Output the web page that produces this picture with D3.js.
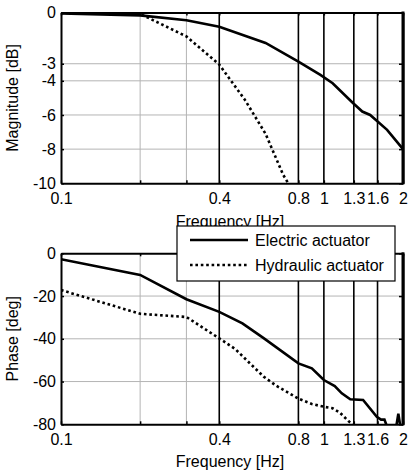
<!DOCTYPE html>
<html lang="en">
<head>
    <meta charset="UTF-8">
    <script src="https://cdn.jsdelivr.net/npm/d3@7"></script>
    <title>Bode comparison</title>
    <style>
        body { margin: 0; background: white; }
        svg text { font-family: "Liberation Sans", Arial, sans-serif; font-size: 16px; fill: black; }
    </style>
</head>
<body>
    <div id="chart"></div>

    <script>
        // Frequency axis
        const xTicks = [0.1, 0.4, 0.8, 1, 1.3, 1.6, 2];
        const xMinorGrid = [0.2, 0.3];
        const markerFreqs = [0.4, 0.8, 1, 1.3, 1.6];

        // Magnitude plot
        const magTicks = [0, -3, -4, -6, -8, -10];
        const magGrid = [-3, -4, -6, -8];
        const magFreqElectric = [0.1, 0.2, 0.3, 0.4, 0.6, 0.8, 0.97, 1.08, 1.29, 1.4, 1.5, 1.74, 2.0];
        const magElectric = [-0.05, -0.17, -0.45, -0.83, -1.78, -2.87, -3.65, -4.14, -5.3, -5.8, -6.0, -6.87, -8.0];
        const magFreqHydraulic = [0.1, 0.15, 0.2, 0.3, 0.4, 0.5, 0.6, 0.7, 0.8];
        const magHydraulic = [-0.02, -0.03, -0.08, -1.4, -3.05, -5.1, -7.1, -9.5, -11];

        // Phase plot
        const phaseTicks = [0, -20, -40, -60, -80];
        const phaseGrid = [-20, -40, -60];
        const phaseFreqElectric = [0.1, 0.2, 0.3, 0.4, 0.49, 0.59, 0.8, 0.9, 1.0, 1.1, 1.17, 1.26, 1.41, 1.59, 1.65, 1.7, 1.75, 1.88, 1.92, 1.96, 2.0];
        const phaseElectric = [-2.8, -10.1, -21.5, -27.4, -32.8, -39.7, -51.5, -53.8, -59.3, -62.1, -65.5, -68.3, -68.6, -76.5, -77.8, -77.8, -82, -82, -75, -82, -80];
        const phaseFreqHydraulic = [0.1, 0.2, 0.3, 0.4, 0.46, 0.59, 0.66, 0.8, 0.9, 1.0, 1.08, 1.15, 1.24, 1.32];
        const phaseHydraulic = [-17.2, -28.3, -29.8, -39.8, -44.8, -57.7, -62, -68, -70.5, -71.8, -72.5, -74.5, -78.5, -81];

        const seriesNames = ["Electric actuator", "Hydraulic actuator"];

        const width = 409, height = 473;
        const svg = d3.select("#chart").append("svg")
            .attr("width", width)
            .attr("height", height);

        const x = d3.scaleLog().domain([0.1, 2]).range([61, 403]);
        const fmt = d => String(d);

        const drawPanel = (id, yDomain, yRange, yTicks, yGrid, series, yLabel, xLabelOffset) => {
            const y = d3.scaleLinear().domain(yDomain).range(yRange);
            const g = svg.append("g");
            const [top, bottom] = [y(yDomain[1]), y(yDomain[0])];

            svg.append("clipPath").attr("id", id)
                .append("rect")
                .attr("x", x(0.1)).attr("y", top)
                .attr("width", x(2) - x(0.1)).attr("height", bottom - top);

            // grey grid
            g.selectAll(".hgrid").data(yGrid).enter().append("line")
                .attr("x1", x(0.1)).attr("x2", x(2))
                .attr("y1", d => y(d)).attr("y2", d => y(d))
                .attr("stroke", "#b4b4b4").attr("stroke-width", 1);
            g.selectAll(".vgrid").data(xMinorGrid).enter().append("line")
                .attr("x1", d => x(d)).attr("x2", d => x(d))
                .attr("y1", top).attr("y2", bottom)
                .attr("stroke", "#b4b4b4").attr("stroke-width", 1);

            // black frequency markers
            g.selectAll(".marker").data(markerFreqs).enter().append("line")
                .attr("x1", d => x(d)).attr("x2", d => x(d))
                .attr("y1", top).attr("y2", bottom)
                .attr("stroke", "black").attr("stroke-width", 1.6);

            // curves
            const line = d3.line().x(d => x(d[0])).y(d => y(d[1]));
            series.forEach(s => {
                g.append("path")
                    .datum(d3.zip(s.freq, s.values))
                    .attr("clip-path", `url(#${id})`)
                    .attr("d", line)
                    .attr("fill", "none")
                    .attr("stroke", "black")
                    .attr("stroke-width", 2.6)
                    .attr("stroke-dasharray", s.dash);
            });

            // axes (ticks pointing inward)
            const allX = xTicks.concat(xMinorGrid);
            g.append("g").attr("transform", `translate(0,${bottom})`)
                .call(d3.axisBottom(x).tickValues(allX)
                    .tickFormat(d => xTicks.includes(d) ? fmt(d) : "")
                    .tickSizeInner(-3).tickSizeOuter(0).tickPadding(9));
            g.append("g").attr("transform", `translate(0,${top})`)
                .call(d3.axisTop(x).tickValues(allX).tickFormat("")
                    .tickSizeInner(-3).tickSizeOuter(0));
            g.append("g").attr("transform", `translate(${x(0.1)},0)`)
                .call(d3.axisLeft(y).tickValues(yTicks).tickFormat(fmt)
                    .tickSizeInner(-3).tickSizeOuter(0).tickPadding(5));
            g.append("g").attr("transform", `translate(${x(2)},0)`)
                .call(d3.axisRight(y).tickValues(yTicks).tickFormat("")
                    .tickSizeInner(-4).tickSizeOuter(0));

            g.selectAll(".domain").attr("stroke", "black").attr("stroke-width", 2);
            g.selectAll(".tick line").attr("stroke", "black").attr("stroke-width", 1.5);
            g.selectAll(".tick text").style("font-size", "16px")
                .style("font-family", "'Liberation Sans', Arial, sans-serif");

            // thick right frame
            g.append("line")
                .attr("x1", x(2)).attr("x2", x(2))
                .attr("y1", top - 1).attr("y2", bottom + 1)
                .attr("stroke", "black").attr("stroke-width", 3);

            g.append("text")
                .attr("transform", `translate(18,${(top + bottom) / 2}) rotate(-90)`)
                .attr("text-anchor", "middle")
                .text(yLabel);

            g.append("text")
                .attr("x", 230).attr("y", bottom + xLabelOffset)
                .attr("text-anchor", "middle")
                .text("Frequency [Hz]");
        };

        drawPanel("clipMag", [-10, 0], [183.3, 12.5], magTicks, magGrid, [
            { freq: magFreqElectric, values: magElectric, dash: null },
            { freq: magFreqHydraulic, values: magHydraulic, dash: "2.6,2.8" }
        ], "Magnitude [dB]", 44);

        drawPanel("clipPhase", [-80, 0], [424.3, 253.3], phaseTicks, phaseGrid, [
            { freq: phaseFreqElectric, values: phaseElectric, dash: null },
            { freq: phaseFreqHydraulic, values: phaseHydraulic, dash: "2.6,2.8" }
        ], "Phase [deg]", 42.5);

        // legend
        const legend = svg.append("g").attr("transform", "translate(177,226)");
        legend.append("rect")
            .attr("width", 218).attr("height", 55)
            .attr("fill", "white").attr("stroke", "black").attr("stroke-width", 1.2);
        const legendDash = [null, "2.6,2.8"];
        seriesNames.forEach((name, i) => {
            const ly = 14 + i * 25;
            legend.append("line")
                .attr("x1", 13).attr("x2", 71)
                .attr("y1", ly).attr("y2", ly)
                .attr("stroke", "black").attr("stroke-width", 2.6)
                .attr("stroke-dasharray", legendDash[i]);
            legend.append("text")
                .attr("x", 78).attr("y", ly + 6)
                .text(name);
        });
    </script>
</body>
</html>
